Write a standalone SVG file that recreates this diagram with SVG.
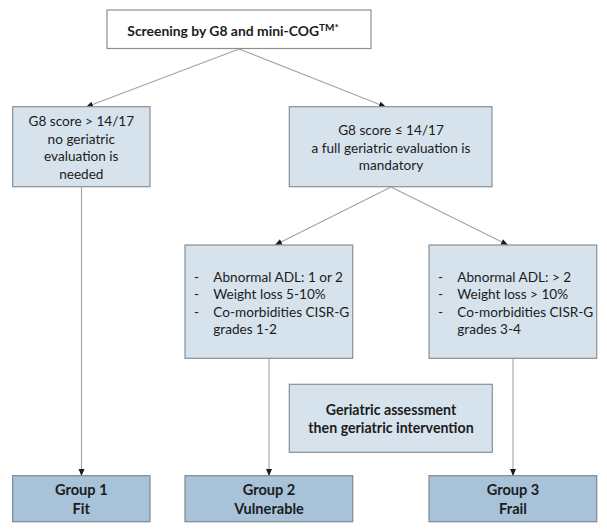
<svg xmlns="http://www.w3.org/2000/svg" width="607" height="530" viewBox="0 0 607 530">
<style>
  .box{fill:#d6e2ec;stroke:#8a9096;stroke-width:1.2}
  .top{fill:#ffffff;stroke:#8a9096;stroke-width:1.2}
  .grp{fill:#a8c2d9;stroke:#7d8790;stroke-width:1.2}
  .t{font-family:Lato,"Liberation Sans",sans-serif;font-size:13.6px;fill:#1c1c1c}
  .c{text-anchor:middle}
  .b{font-weight:bold}
  .conn{stroke:#a3a3a3;stroke-width:1.1;fill:none;marker-end:url(#arr)}
</style>
<defs>
  <marker id="arr" markerUnits="userSpaceOnUse" markerWidth="8" markerHeight="8" refX="7" refY="3" orient="auto">
    <path d="M0,0 L7,3 L0,6 z" fill="#1a1a1a"/>
  </marker>
</defs>
<rect width="607" height="530" fill="#ffffff"/>
<g id="connectors">
  <line class="conn" x1="239" y1="49" x2="86" y2="107"/>
  <line class="conn" x1="239" y1="49" x2="386" y2="107"/>
  <line class="conn" x1="391" y1="187" x2="275" y2="245"/>
  <line class="conn" x1="391" y1="187" x2="508" y2="245"/>
  <line class="conn" x1="81.5" y1="187" x2="81.5" y2="476"/>
  <line class="conn" x1="269" y1="358" x2="269" y2="476"/>
  <line class="conn" x1="513" y1="358" x2="513" y2="476"/>
</g>
<g id="screening">
  <rect class="top" x="107" y="10" width="264" height="38.5"/>
  <text class="t b c" x="233" y="35.5" style="font-size:13.9px">Screening by G8 and mini-COG<tspan dy="-5" style="font-size:10px">TM*</tspan></text>
</g>
<g id="fit-criteria">
  <rect class="box" x="12.7" y="106.7" width="137.3" height="80"/>
  <text class="t c" x="81.3" y="126">G8 score &gt; 14/17</text>
  <text class="t c" x="81.3" y="143.5">no geriatric</text>
  <text class="t c" x="81.3" y="161">evaluation is</text>
  <text class="t c" x="81.3" y="178.5">needed</text>
</g>
<g id="full-eval">
  <rect class="box" x="289.3" y="106.7" width="202.7" height="80"/>
  <text class="t c" x="391" y="135">G8 score ≤ 14/17</text>
  <text class="t c" x="391" y="152.5">a full geriatric evaluation is</text>
  <text class="t c" x="391" y="170">mandatory</text>
</g>
<g id="vulnerable-criteria">
  <rect class="box" x="185" y="245" width="167.7" height="113.3"/>
  <text class="t" x="194" y="281.7">-</text>
  <text class="t" x="213.3" y="281.7">Abnormal ADL: 1 or 2</text>
  <text class="t" x="194" y="299.3">-</text>
  <text class="t" x="213.3" y="299.3">Weight loss 5-10%</text>
  <text class="t" x="194" y="317">-</text>
  <text class="t" x="213.3" y="317">Co-morbidities CISR-G</text>
  <text class="t" x="213.3" y="334">grades 1-2</text>
</g>
<g id="frail-criteria">
  <rect class="box" x="429" y="245" width="167.7" height="113.3"/>
  <text class="t" x="438" y="281.7">-</text>
  <text class="t" x="457.3" y="281.7">Abnormal ADL: &gt; 2</text>
  <text class="t" x="438" y="299.3">-</text>
  <text class="t" x="457.3" y="299.3">Weight loss &gt; 10%</text>
  <text class="t" x="438" y="317">-</text>
  <text class="t" x="457.3" y="317">Co-morbidities CISR-G</text>
  <text class="t" x="457.3" y="334">grades 3-4</text>
</g>
<g id="assessment">
  <rect class="box" x="289.3" y="384.3" width="203" height="68"/>
  <text class="t b c" x="391" y="415" style="font-size:14.2px">Geriatric assessment</text>
  <text class="t b c" x="391" y="433" style="font-size:14.2px">then geriatric intervention</text>
</g>
<g id="group1">
  <rect class="grp" x="12.7" y="475.7" width="137.3" height="46"/>
  <text class="t b c" x="81.3" y="495" style="font-size:14.6px">Group 1</text>
  <text class="t b c" x="81.3" y="514" style="font-size:14.6px">Fit</text>
</g>
<g id="group2">
  <rect class="grp" x="185" y="475.7" width="167.7" height="46"/>
  <text class="t b c" x="269" y="495" style="font-size:14.6px">Group 2</text>
  <text class="t b c" x="269" y="514" style="font-size:14.6px">Vulnerable</text>
</g>
<g id="group3">
  <rect class="grp" x="429" y="475.7" width="167.7" height="46"/>
  <text class="t b c" x="513" y="495" style="font-size:14.6px">Group 3</text>
  <text class="t b c" x="513" y="514" style="font-size:14.6px">Frail</text>
</g>
</svg>
